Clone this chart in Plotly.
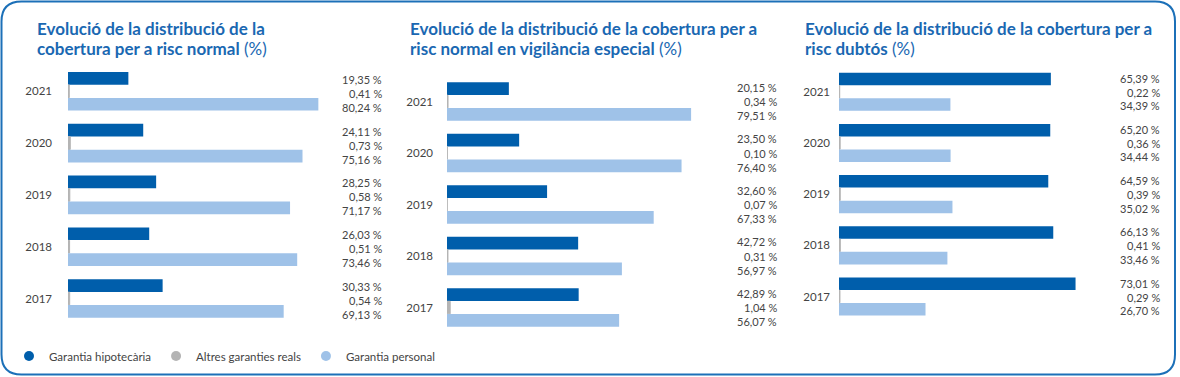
import plotly.graph_objects as go

W, H = 1180, 377

years = ["2021", "2020", "2019", "2018", "2017"]
series_names = ["Garantia hipotecària", "Altres garanties reals", "Garantia personal"]
series_colors = ["#005eab", "#b4b4b4", "#9fc2e8"]

title_lines = [
    ("Evolució de la distribució de la", "cobertura per a risc normal"),
    ("Evolució de la distribució de la cobertura per a", "risc normal en vigilància especial"),
    ("Evolució de la distribució de la cobertura per a", "risc dubtós"),
]
title_unit = " (%)"

p1_hipo = [19.35, 24.11, 28.25, 26.03, 30.33]
p1_altres = [0.41, 0.73, 0.58, 0.51, 0.54]
p1_pers = [80.24, 75.16, 71.17, 73.46, 69.13]

p2_hipo = [20.15, 23.50, 32.60, 42.72, 42.89]
p2_altres = [0.34, 0.10, 0.07, 0.31, 1.04]
p2_pers = [79.51, 76.40, 67.33, 56.97, 56.07]

p3_hipo = [65.39, 65.20, 64.59, 66.13, 73.01]
p3_altres = [0.22, 0.36, 0.39, 0.41, 0.29]
p3_pers = [34.39, 34.44, 35.02, 33.46, 26.70]

panels = [
    [p1_hipo, p1_altres, p1_pers],
    [p2_hipo, p2_altres, p2_pers],
    [p3_hipo, p3_altres, p3_pers],
]

# layout geometry (pixels)
x_domains_px = [(68, 380), (447, 754), (839, 1163)]
y_domains_px = [(65.4, 324.4), (75.8, 333.3), (66.2, 322.1)]
label_right_px = [384, 779, 1162]
label_offsets = [(-12, 2, 16), (-14.5, 0, 14), (-13.5, 0.5, 14)]
title_x_px = [35, 408, 803]
title_line_y_px = [29, 48.5]
tick_standoff = [15, 13, 8]

def px_x(x):
    return x / W

def px_y(y):
    return 1 - y / H

def fmt(v):
    return f"{v:.2f}".replace(".", ",") + " %"

fig = go.Figure()

for p, data in enumerate(panels):
    xa = "x" if p == 0 else f"x{p+1}"
    ya = "y" if p == 0 else f"y{p+1}"
    for s, vals in enumerate(data):
        mk = dict(color=series_colors[s])
        if s == 1:
            mk["line"] = dict(color=series_colors[s], width=1)
        else:
            mk["line"] = dict(width=0)
        fig.add_trace(go.Bar(
            x=vals, y=years, orientation="h", name=series_names[s],
            marker=mk, xaxis=xa, yaxis=ya, showlegend=False,
            hoverinfo="x+y",
        ))

# legend entries as round markers
for s in range(3):
    fig.add_trace(go.Scatter(
        x=[None], y=[None], mode="markers", name=series_names[s],
        marker=dict(color=series_colors[s], size=10, symbol="circle"),
        showlegend=True, xaxis="x", yaxis="y",
    ))

layout = dict(
    width=W, height=H,
    margin=dict(l=0, r=0, t=0, b=0),
    paper_bgcolor="white", plot_bgcolor="white",
    barmode="group", bargap=0.25, bargroupgap=0.02,
    font=dict(family="Lato, 'Open Sans', sans-serif", size=11, color="#444444"),
    showlegend=True,
    legend=dict(orientation="h", x=px_x(9), y=px_y(356), xanchor="left", yanchor="middle",
                font=dict(size=11.5, color="#444444"), itemwidth=30, tracegroupgap=0,
                bgcolor="rgba(0,0,0,0)"),
)

n = len(years)
for p in range(3):
    xk = "xaxis" if p == 0 else f"xaxis{p+1}"
    yk = "yaxis" if p == 0 else f"yaxis{p+1}"
    x0, x1 = x_domains_px[p]
    yt, yb = y_domains_px[p]
    layout[xk] = dict(domain=[px_x(x0), px_x(x1)], range=[0, 100], visible=False,
                      fixedrange=True, anchor="y" if p == 0 else f"y{p+1}")
    layout[yk] = dict(domain=[px_y(yb), px_y(yt)], type="category",
                      categoryorder="array", categoryarray=years,
                      range=[n - 0.5, -0.5], autorange=False, fixedrange=True,
                      showgrid=False, zeroline=False, showline=False, ticks="",
                      ticklabelstandoff=tick_standoff[p],
                      tickfont=dict(size=11.5, color="#444444"),
                      anchor="x" if p == 0 else f"x{p+1}")

fig.update_layout(**layout)

annotations = []
for p, data in enumerate(panels):
    ya = "y" if p == 0 else f"y{p+1}"
    for s, vals in enumerate(data):
        for i, yr in enumerate(years):
            annotations.append(dict(
                xref="paper", yref=ya, x=px_x(label_right_px[p]), y=i,
                xanchor="right", yanchor="middle", yshift=-label_offsets[p][s],
                text=fmt(vals[i]), showarrow=False,
                font=dict(size=11, color="#444444"),
            ))
    l1, l2 = title_lines[p]
    for k, txt in enumerate([f"<b>{l1}</b>", f"<b>{l2}</b>{title_unit}"]):
        annotations.append(dict(
            xref="paper", yref="paper", x=px_x(title_x_px[p]), y=px_y(title_line_y_px[k]),
            xanchor="left", yanchor="middle", align="left", showarrow=False,
            text=txt, font=dict(size=17, color="#1a68b2",
                                family="Lato, 'Open Sans', sans-serif"),
        ))
fig.update_layout(annotations=annotations)

# rounded border
def rr(x0, y0, x1, y1, r):
    pts = [
        f"M {px_x(x0 + r)},{px_y(y0)}",
        f"L {px_x(x1 - r)},{px_y(y0)}",
        f"Q {px_x(x1)},{px_y(y0)} {px_x(x1)},{px_y(y0 + r)}",
        f"L {px_x(x1)},{px_y(y1 - r)}",
        f"Q {px_x(x1)},{px_y(y1)} {px_x(x1 - r)},{px_y(y1)}",
        f"L {px_x(x0 + r)},{px_y(y1)}",
        f"Q {px_x(x0)},{px_y(y1)} {px_x(x0)},{px_y(y1 - r)}",
        f"L {px_x(x0)},{px_y(y0 + r)}",
        f"Q {px_x(x0)},{px_y(y0)} {px_x(x0 + r)},{px_y(y0)}",
        "Z",
    ]
    return " ".join(pts)

fig.add_shape(type="path", xref="paper", yref="paper",
              path=rr(1.5, 1.5, 1175, 374.5, 20),
              line=dict(color="#1c70b8", width=2), layer="above")

fig.write_html("out.html", include_plotlyjs=True,
               config=dict(displayModeBar=False),
               post_script="document.body.style.margin='0';document.body.style.overflow='hidden';")
